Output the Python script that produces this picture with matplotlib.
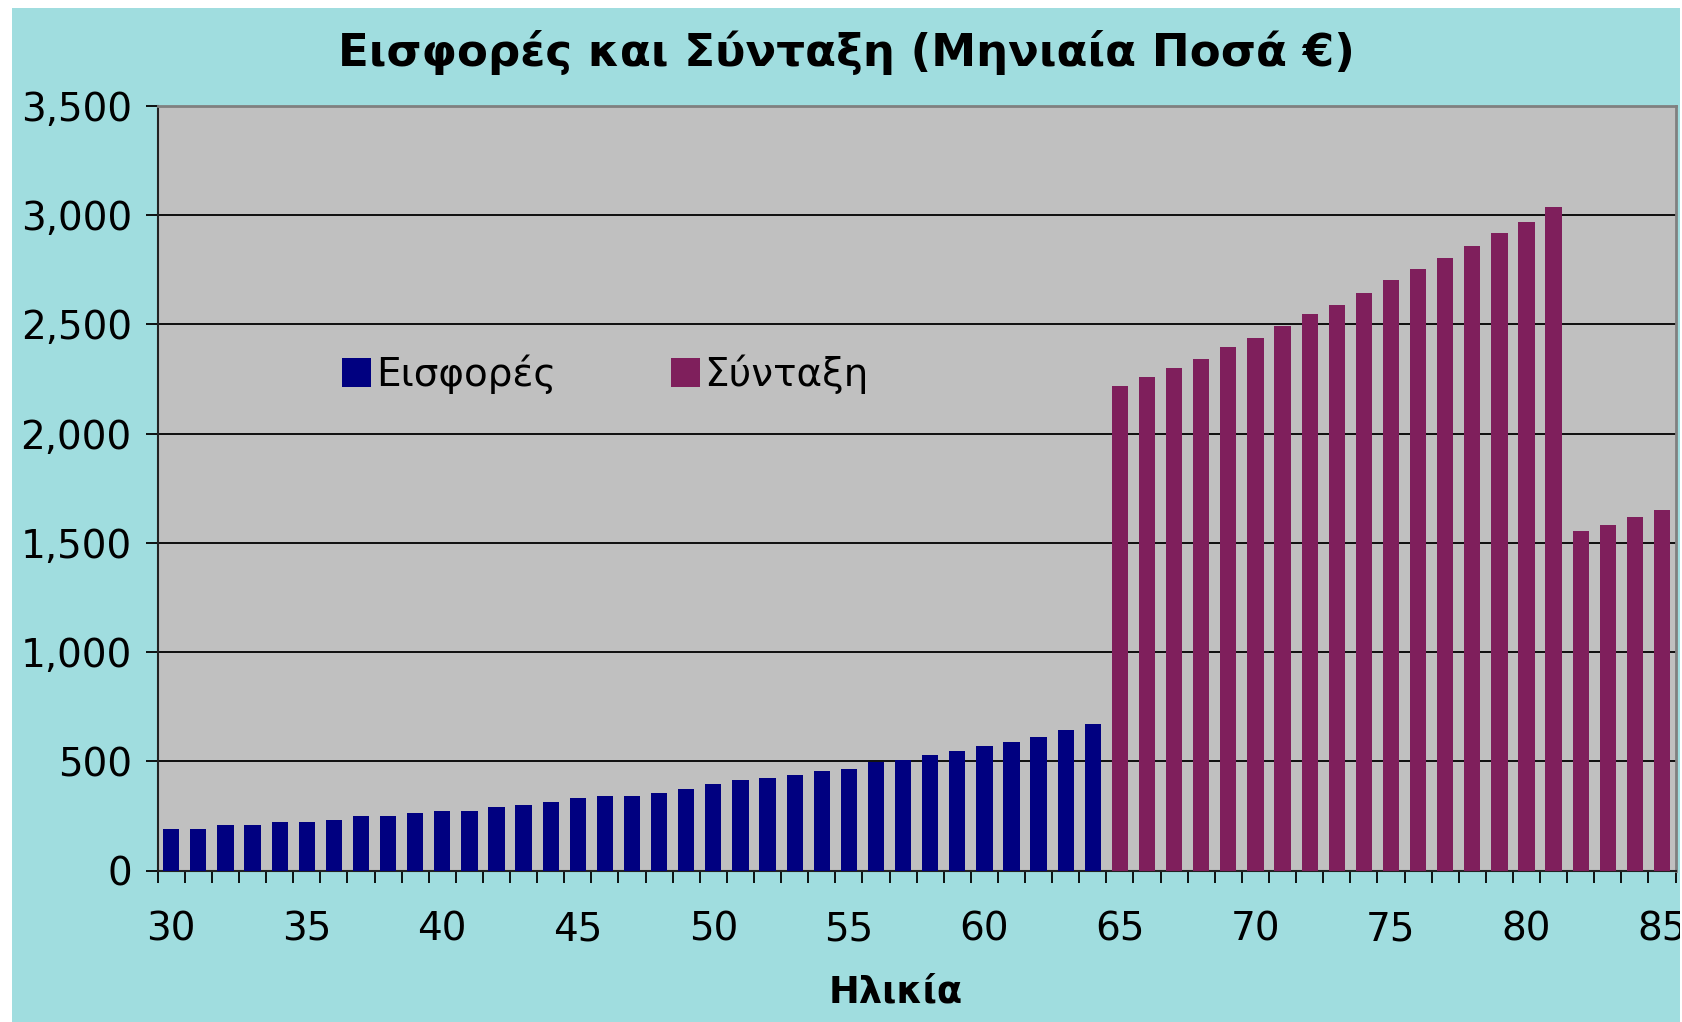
import matplotlib
matplotlib.use("Agg")
import matplotlib.pyplot as plt
from matplotlib.patches import Rectangle
from matplotlib.ticker import FuncFormatter, MultipleLocator
import numpy as np

plt.rcParams['font.family'] = ['DejaVu Sans']

title = "Εισφορές και Σύνταξη (Μηνιαία Ποσά €)"
xlabel = "Ηλικία"
series_names = ["Εισφορές", "Σύνταξη"]

contrib_ages = list(range(30, 65))
contrib_values = [191, 191, 209, 209, 221, 221, 232, 250, 250, 262,
                  273, 273, 291, 302, 314, 331, 343, 343, 356, 372,
                  395, 414, 426, 437, 455, 467, 496, 508, 531, 549,
                  572, 590, 613, 642, 671]

pension_ages = list(range(65, 86))
pension_values = [2220, 2261, 2301, 2342, 2395, 2436, 2494, 2548, 2589, 2642,
                  2702, 2752, 2805, 2857, 2917, 2969, 3040, 1557, 1580, 1621, 1651]

xtick_labels = [30, 35, 40, 45, 50, 55, 60, 65, 70, 75, 80, 85]

W, H = 1682, 1022
fig = plt.figure(figsize=(W / 100, H / 100), dpi=100, facecolor="white")

teal = "#A0DDDF"
bg = Rectangle((12 / W, 0), (1680 - 12) / W, 1 - 8 / H, transform=fig.transFigure,
               facecolor=teal, edgecolor="none", zorder=-10)
fig.patches.append(bg)

ax = fig.add_axes([157.7 / W, 1 - 870.7 / H, (1675.6 - 157.7) / W, (870.7 - 106) / H])
ax.set_facecolor("#C0C0C0")

bw = 0.6
ax.bar(contrib_ages, contrib_values, width=bw, color="#000080", label=series_names[0], zorder=3)
ax.bar(pension_ages, pension_values, width=bw, color="#7F1F5C", label=series_names[1], zorder=3)

ax.set_xlim(29.5, 85.5)
ax.set_ylim(0, 3500)
ax.yaxis.set_major_locator(MultipleLocator(500))
ax.yaxis.set_major_formatter(FuncFormatter(lambda v, p: f"{int(v):,}"))
ax.grid(axis="y", color="black", linewidth=1.3, zorder=1)
ax.set_axisbelow(True)

ax.set_xticks(xtick_labels)
ax.set_xticklabels([str(v) for v in xtick_labels])
ax.set_xticks(np.arange(29.5, 86, 1.0), minor=True)
ax.tick_params(axis="x", which="major", length=0, pad=29, labelsize=28)
ax.tick_params(axis="x", which="minor", length=8.6, width=1.3, direction="out", color="black")
ax.tick_params(axis="y", which="major", length=8.6, width=1.3, direction="out", pad=10, labelsize=28, color="black")

for s in ["left", "bottom"]:
    ax.spines[s].set_color("#222222")
    ax.spines[s].set_linewidth(1.5)
for s in ["top", "right"]:
    ax.spines[s].set_color("#808080")
    ax.spines[s].set_linewidth(2)

for lbl in ax.get_xticklabels():
    lbl.set_clip_on(True)
    lbl.set_clip_path(bg)

fig.text(846 / W, 1 - 52.5 / H, title, ha="center", va="center",
         fontsize=32.5, fontweight="bold")
fig.text(896 / W, 1 - 992 / H, xlabel, ha="center", va="center",
         fontsize=26.5, fontweight="bold")

leg = ax.legend(loc="center left", bbox_to_anchor=(342 / W, 1 - 374.5 / H),
                bbox_transform=fig.transFigure, ncol=2, frameon=False,
                fontsize=28, handlelength=0.75, handleheight=0.75,
                handletextpad=0.12, columnspacing=2.95, borderpad=0, borderaxespad=0)

fig.savefig("out.png", dpi=100, facecolor="white")
